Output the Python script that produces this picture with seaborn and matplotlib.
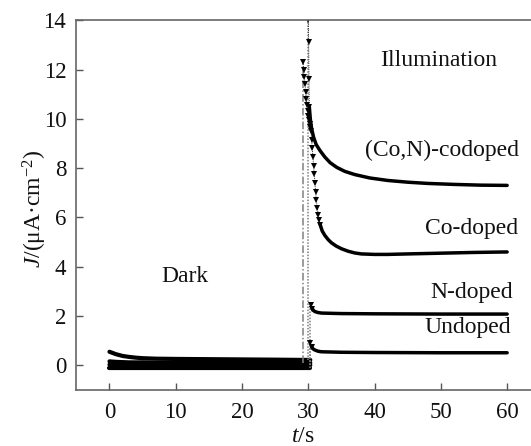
import matplotlib
matplotlib.use("Agg")
import matplotlib.pyplot as plt
import seaborn as sns

# Dark-period photocurrent, t in s, J in uA/cm^2
t_dark = [0, 0.5, 1, 2, 3, 4, 5, 7, 10, 15, 20, 25, 29, 30.3]
j_dark_con = [0.55, 0.50, 0.45, 0.38, 0.34, 0.31, 0.29, 0.27, 0.26, 0.25, 0.24, 0.23, 0.22, 0.22]
j_dark_co = [0.16, 0.15, 0.14, 0.13, 0.12, 0.12, 0.12, 0.11, 0.11, 0.10, 0.10, 0.10, 0.10, 0.10]
j_dark_n = [0.03, 0.03, 0.02, 0.02, 0.02, 0.01, 0.01, 0.01, 0.01, 0.01, 0.01, 0.01, 0.01, 0.01]
j_dark_un = [-0.09, -0.09, -0.09, -0.09, -0.09, -0.09, -0.09, -0.09, -0.09, -0.09, -0.09, -0.09, -0.09, -0.09]

# Illuminated period
t_con = [30.0, 30.05, 30.1, 30.15, 30.3, 30.5, 30.8, 31.2, 31.8, 32.5, 33.3, 34.3,
         35.5, 37, 39.3, 42, 45, 48, 52, 56, 60]
j_con = [14.0, 13.1, 11.6, 10.5, 10.0, 9.6, 9.25, 8.95, 8.7, 8.45, 8.22, 8.03,
         7.87, 7.74, 7.6, 7.5, 7.43, 7.38, 7.34, 7.31, 7.3]

t_co = [29.2, 29.3, 29.4, 29.5, 29.6, 29.7, 29.8, 29.9, 30.0, 30.1, 30.2, 30.3,
        30.4, 30.5, 30.6, 30.7, 30.8, 30.9, 31.0, 31.1, 31.2, 31.35, 31.5, 31.65,
        31.8, 32.1, 32.5, 33.0, 33.5, 34.2, 35, 36, 37, 38, 40, 42, 45, 50, 55, 60]
j_co = [12.3, 12.0, 11.7, 11.4, 11.1, 10.8, 10.55, 10.3, 10.1, 9.95, 9.8, 9.65,
        9.5, 9.15, 8.8, 8.45, 8.1, 7.75, 7.4, 7.05, 6.7, 6.4, 6.1, 5.9,
        5.7, 5.45, 5.27, 5.1, 4.97, 4.84, 4.73, 4.63, 4.56, 4.52, 4.5, 4.5, 4.52, 4.55, 4.58, 4.6]

t_n = [30.4, 30.6, 30.8, 31.0, 31.5, 32, 35, 40, 50, 60]
j_n = [2.45, 2.3, 2.22, 2.18, 2.14, 2.12, 2.1, 2.09, 2.08, 2.08]

t_un = [30.3, 30.5, 30.7, 31.0, 31.5, 32, 35, 40, 50, 60]
j_un = [0.92, 0.75, 0.67, 0.62, 0.57, 0.55, 0.53, 0.52, 0.51, 0.51]

# Light switched on: onset time of each trace
rise_t = [30.0, 29.2, 30.3, 30.3]

labels = ["(Co,N)-codoped", "Co-doped", "N-doped", "Undoped"]
label_t = [50.1, 54.6, 54.6, 54.0]
label_j = [8.7, 5.56, 2.97, 1.52]

sns.set_style("ticks")
plt.rcParams["font.family"] = ["Liberation Serif", "DejaVu Serif"]
plt.rcParams["mathtext.fontset"] = "custom"
plt.rcParams["mathtext.rm"] = "Liberation Serif"
plt.rcParams["mathtext.it"] = "Liberation Serif:italic"

fig = plt.figure(figsize=(5.31, 4.46), dpi=100)
ax = fig.add_axes([0.143, 0.1256, 0.857, 0.829])

dark = [j_dark_con, j_dark_co, j_dark_n, j_dark_un]
light = [(t_con, j_con), (t_co, j_co), (t_n, j_n), (t_un, j_un)]
# onset line style and number of leading points drawn as a marked spike
rise_ls = [(0, (1, 1)), (0, (5, 1.5, 1, 1.5)), (0, (1, 1)), (0, (1, 1))]
spike_n = [4, 25, 2, 2]

for jd in dark:
    sns.lineplot(x=t_dark, y=jd, color="black", linewidth=3.0, ax=ax,
                 estimator=None, sort=False)

for (tl, jl), jd, tr, ls, k in zip(light, dark, rise_t, rise_ls, spike_n):
    sns.lineplot(x=[tr, tr], y=[jd[-1], jl[0]], color="#808080", linewidth=1.1,
                 linestyle=ls, ax=ax, estimator=None, sort=False)
    sns.lineplot(x=tl[:k], y=jl[:k], color="#333333", linewidth=0.7,
                 linestyle=(0, (1, 1)), marker="v", markersize=4.2,
                 markeredgewidth=0, markerfacecolor="black",
                 ax=ax, estimator=None, sort=False)
    sns.lineplot(x=tl[k - 1:], y=jl[k - 1:], color="black", linewidth=2.5,
                 ax=ax, estimator=None, sort=False)

for lab, x, y in zip(labels, label_t, label_j):
    ax.text(x, y, lab, ha="center", va="center", fontsize=17, color="#111111")
ax.text(11.4, 3.62, "Dark", ha="center", va="center", fontsize=17, color="#111111")
ax.text(49.7, 12.37, "Illumination", ha="center", va="center", fontsize=17,
        color="#111111")

ax.set_xlim(-5.06, 63.6)
ax.set_ylim(-1, 14)
ax.set_xticks([0, 10, 20, 30, 40, 50, 60])
ax.set_yticks([0, 2, 4, 6, 8, 10, 12, 14])
ax.tick_params(direction="in", length=5, width=1, colors="#555555",
               labelcolor="#111111", labelsize=16.5)
ax.tick_params(axis="x", pad=9)
ax.tick_params(axis="y", pad=7)
for side in ["left", "bottom", "top"]:
    ax.spines[side].set_color("#666666")
    ax.spines[side].set_linewidth(1.2)
ax.spines["right"].set_visible(False)

ax.set_xlabel(r"$\mathit{t}$/s", fontsize=17, color="#111111")
ax.set_ylabel(r"$\mathit{J}$/(μA·cm$^{-2}$)", fontsize=17, color="#111111")
ax.xaxis.set_label_coords(0.499, -0.098)
ax.yaxis.set_label_coords(-0.059, 0.49)

fig.savefig("out.png", dpi=100)
